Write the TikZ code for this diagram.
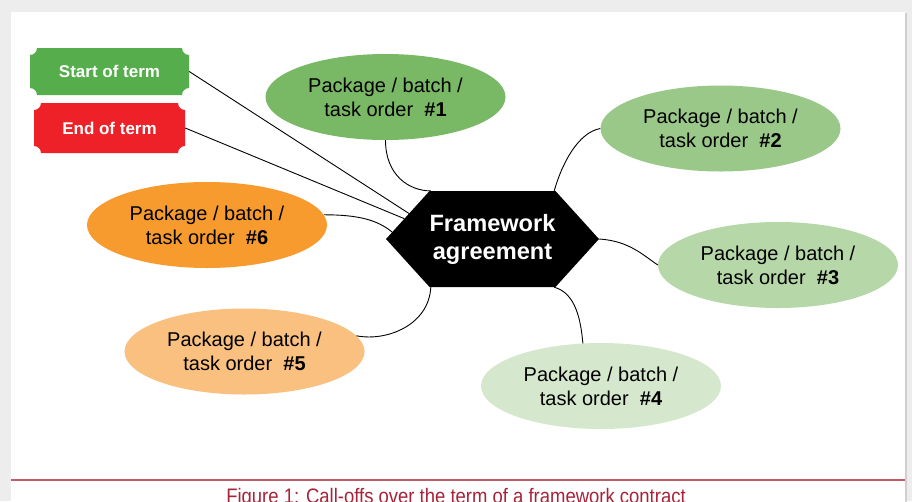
\documentclass[tikz,border=0pt]{standalone}
\usepackage{fontspec}
\setmainfont{Liberation Sans}
\newfontfamily\captionfont[FakeStretch=0.88]{Liberation Sans}
\usetikzlibrary{shapes.geometric,shapes.symbols,shadows}

\definecolor{pkgone}{HTML}{79B864}
\definecolor{pkgtwo}{HTML}{99C889}
\definecolor{pkgthree}{HTML}{B6D7A8}
\definecolor{pkgfour}{HTML}{D5E8CD}
\definecolor{pkgfive}{HTML}{F9C07F}
\definecolor{pkgsix}{HTML}{F79B2F}
\definecolor{termgreen}{HTML}{55AD4C}
\definecolor{termred}{HTML}{ED2127}
\definecolor{captionred}{HTML}{A8233A}
\definecolor{rulered}{HTML}{C25A69}
\definecolor{pagegrey}{HTML}{EDEDED}

\tikzset{
  ticket/.style={minimum width=#1, text=white, inner sep=0pt,
    font=\bfseries\fontsize{17}{20}\selectfont},
  ticketfill/.style={path picture={
    \fill[#1] ([xshift=\ticketr]path picture bounding box.north west)
      -- ([xshift=-\ticketr]path picture bounding box.north east)
      arc[start angle=180, end angle=270, radius=\ticketr]
      -- ([yshift=\ticketr]path picture bounding box.south east)
      arc[start angle=90, end angle=180, radius=\ticketr]
      -- ([xshift=\ticketr]path picture bounding box.south west)
      arc[start angle=0, end angle=90, radius=\ticketr]
      -- ([yshift=-\ticketr]path picture bounding box.north west)
      arc[start angle=270, end angle=360, radius=\ticketr] -- cycle;}},
}

\begin{document}
\begin{tikzpicture}[x=1pt,y=1pt]
    \def\ticketr{7pt}
    \def\pkgtext#1{Package / batch /\\task order\ \ \textbf{\##1}}
    \tikzstyle{package} = [ellipse, minimum width=240pt, minimum height=86pt, inner sep=0pt,
        align=center, font=\fontsize{20}{24}\selectfont]
    \tikzstyle{link} = [black, line width=0.9pt]

    \useasboundingbox (0,0) rectangle (912,-501);
    \clip (0,0) rectangle (912,-501);

    % page and panel
    \fill[pagegrey] (0,0) rectangle (912,-501);
    \fill[white, drop shadow={shadow xshift=2pt, shadow yshift=-1pt, fill=black!30}]
        (11,-12) rectangle (905,-520);

    % start / end of term
    \node[ticket=159pt, minimum height=47pt, ticketfill=termgreen] (start) at (109.5,-71.5) {Start of term};
    \node[ticket=151pt, minimum height=50pt, ticketfill=termred] (end) at (109.5,-128) {End of term};

    % framework agreement
    \node[signal, signal to=east and west, signal pointer angle=95.6, fill=black, text=white,
        minimum width=209pt, minimum height=96pt, inner sep=0pt, align=center,
        font=\bfseries\fontsize{23.6}{28}\selectfont] (fw) at (492.5,-239) {Framework\\agreement};

    % call-offs
    \node[package, fill=pkgone]   (p1) at (385.5,-97)  {\pkgtext{1}};
    \node[package, fill=pkgtwo]   (p2) at (720.5,-128.5) {\pkgtext{2}};
    \node[package, fill=pkgthree] (p3) at (778,-265)   {\pkgtext{3}};
    \node[package, fill=pkgfour]  (p4) at (601,-386)   {\pkgtext{4}};
    \node[package, fill=pkgfive]  (p5) at (244.5,-351.5) {\pkgtext{5}};
    \node[package, fill=pkgsix]   (p6) at (207,-225)   {\pkgtext{6}};

    % connectors
    \draw[link] (start.east) -- (fw.163);
    \draw[link] (end.east) -- (fw.167);
    \draw[link] (p1.south) .. controls +(0,-35) and +(-22,0) .. (fw.142);
    \draw[link] (p2.west) .. controls +(-22,-4) and +(8,28) .. (fw.38);
    \draw[link] (fw.east) .. controls +(30,-2) and +(-15,10) .. (p3.west);
    \draw[link] (fw.322) .. controls +(22,-6) and +(-2,22) .. (p4.113);
    \draw[link] (fw.218) .. controls +(-2,-38) and +(30,-6) .. (p5.8);
    \draw[link] (p6.5) .. controls +(35,0) and +(-15,12) .. (fw.176);

    % caption
    \draw[rulered, line width=1.5pt] (11,-480) -- (905,-480);
    \node[anchor=base, text=captionred, inner sep=0pt, font=\captionfont\fontsize{21}{24}\selectfont]
        (caption) at (456,-503.5) {Figure 1: Call-offs over the term of a framework contract};
\end{tikzpicture}
\end{document}
